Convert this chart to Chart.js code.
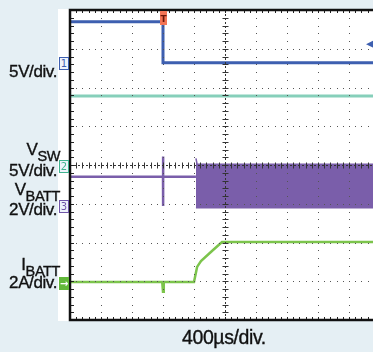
<!DOCTYPE html>
<html>
<head>
<meta charset="utf-8">
<script src="https://cdn.jsdelivr.net/npm/chart.js@4.4.1/dist/chart.umd.min.js"></script>
<style>
  html, body { margin: 0; padding: 0; width: 373px; height: 352px; overflow: hidden; background: #e5eff4; }
  #panel { position: absolute; left: 58px; top: 9px; width: 340px; height: 312px; background: #fff; }
  #wrap { position: absolute; left: 0; top: 0; width: 390px; height: 352px; }
  .lbl { position: absolute; left: 0; text-align: right; font: 17px "Liberation Sans", Arial, sans-serif; line-height: 17px; color: #111; white-space: nowrap; letter-spacing: -0.4px; -webkit-text-stroke: 0.35px #111; }
  .lbl sub { font-size: 14.5px; vertical-align: baseline; position: relative; top: 6px; }
  .mk { position: absolute; left: 59px; width: 8px; height: 11px; border: 1px solid; background: #eef3fb; font: 10px "DejaVu Sans", sans-serif; line-height: 11px; text-align: center; }
  #trig { position: absolute; left: 160px; top: 11px; width: 7px; height: 14px; background: #f47556; color: #6b1608; font: bold 9px "DejaVu Sans", sans-serif; line-height: 16px; text-align: center; }
  #lvl { position: absolute; left: 366px; top: 37px; color: #3d5fb0; font: 11px "DejaVu Sans", sans-serif; }
  #xlbl { position: absolute; left: 182px; top: 326px; font: 19.5px "Liberation Sans", Arial, sans-serif; color: #111; letter-spacing: -0.4px; -webkit-text-stroke: 0.35px #111; }
</style>
</head>
<body>
<div id="panel"></div>
<div id="wrap"><canvas id="scope"></canvas></div>

<div class="lbl" style="top:63px;width:57px">5V/div.</div>
<div class="lbl" style="top:141px;width:60px">V<sub>SW</sub></div>
<div class="lbl" style="top:162px;width:57px">5V/div.</div>
<div class="lbl" style="top:181px;width:60px">V<sub>BATT</sub></div>
<div class="lbl" style="top:201px;width:57px">2V/div.</div>
<div class="lbl" style="top:256px;width:60px">I<sub>BATT</sub></div>
<div class="lbl" style="top:274px;width:57px">2A/div.</div>
<div id="xlbl">400µs/div.</div>

<div class="mk" style="top:57px;border-color:#3d5fb0;color:#3d5fb0">1</div>
<div class="mk" style="top:160px;border-color:#3fb38f;color:#3fb38f">2</div>
<div class="mk" style="top:200px;border-color:#6f55a8;color:#6f55a8">3</div>
<div class="mk" style="top:277px;border-color:#62b83a;background:#62b83a;color:#fff;font-weight:bold">→</div>
<div id="trig">T</div>
<div id="lvl">◀</div>

<script>
// time base: µs, 400µs per division, 10 divisions
const usPerDiv = 400;
const xDivs = 10;
const yDivs = 8;

// channel 1 (blue), 5V/div
const ch1Time = [0, 1200, 1200, 4000];
const ch1Volts = [5.2, 5.2, -0.1, -0.1];

// channel 2 (teal), 5V/div
const ch2Time = [0, 4000];
const ch2Volts = [8.9, 8.9];

// channel 3 (purple), 2V/div: before switching starts
const ch3Time = [0, 1195, 1200, 1200, 1200, 1205, 1625];
const ch3Volts = [1.45, 1.45, 1.45, 2.5, -0.05, 1.45, 1.45];
// switching envelope
const ch3BandTime = [1625, 1640, 4000];
const ch3BandHigh = [2.4, 2.1, 2.1];
const ch3BandLow = [-0.15, -0.15, -0.15];

// channel 4 (green), 2A/div
const ch4Time = [0, 1190, 1200, 1210, 1600, 1640, 1690, 1832, 1961, 4000];
const ch4Amps = [0, 0, -0.5, 0, 0, 0.78, 1.08, 1.6, 2.06, 2.06];

// channel scale (units/div) and ground position (divisions from centre)
const ch1 = { scale: 5, offset: 2.66 };
const ch2 = { scale: 5, offset: 0 };
const ch3 = { scale: 2, offset: -1.03 };
const ch4 = { scale: 2, offset: -3.02 };

function toPoints(times, values, ch) {
  return times.map((t, i) => ({ x: t, y: ch.offset + values[i] / ch.scale }));
}

function trace(data, color, extra) {
  return Object.assign({
    data,
    borderColor: color,
    backgroundColor: color,
    borderWidth: 2.5,
    pointRadius: 0,
    tension: 0,
    fill: false
  }, extra || {});
}

const scopeGrid = {
  id: "scopeGrid",
  afterDatasetsDraw(chart) {
    const { ctx, chartArea: a, scales: { x, y } } = chart;
    const xMin = 0, xMax = usPerDiv * xDivs;
    const yMin = -yDivs / 2, yMax = yDivs / 2;
    ctx.save();
    ctx.fillStyle = "#555";

    // dotted grid lines
    for (let i = 1; i < yDivs; i++) {
      if (i === yDivs / 2) continue;
      const py = Math.round(y.getPixelForValue(yMin + i));
      for (let j = 1; j < xDivs * 5; j++) {
        const px = Math.round(x.getPixelForValue(j * usPerDiv / 5));
        ctx.fillRect(px, py, 1, 1);
      }
    }
    for (let i = 1; i < xDivs; i++) {
      if (i === xDivs / 2) continue;
      const px = Math.round(x.getPixelForValue(i * usPerDiv));
      for (let j = 1; j < yDivs * 5; j++) {
        const py = Math.round(y.getPixelForValue(yMin + j / 5));
        ctx.fillRect(px, py, 1, 1);
      }
    }

    // centre lines with minor ticks
    const cx = Math.round(x.getPixelForValue(xMax / 2)) + 0.5;
    const cy = Math.round(y.getPixelForValue(0)) + 0.5;
    ctx.strokeStyle = "#333";
    ctx.lineWidth = 1;
    ctx.setLineDash([2, 2]);
    ctx.beginPath();
    ctx.moveTo(a.left, cy); ctx.lineTo(a.right, cy);
    ctx.moveTo(cx, a.top); ctx.lineTo(cx, a.bottom);
    ctx.stroke();
    ctx.setLineDash([]);
    ctx.beginPath();
    for (let j = 1; j < xDivs * 5; j++) {
      const px = Math.round(x.getPixelForValue(j * usPerDiv / 5)) + 0.5;
      ctx.moveTo(px, cy - 3); ctx.lineTo(px, cy + 3);
    }
    for (let j = 1; j < yDivs * 5; j++) {
      const py = Math.round(y.getPixelForValue(yMin + j / 5)) + 0.5;
      ctx.moveTo(cx - 3, py); ctx.lineTo(cx + 3, py);
    }
    ctx.stroke();

    // border ticks
    ctx.strokeStyle = "#222";
    ctx.beginPath();
    for (let j = 1; j < yDivs * 5; j++) {
      const py = Math.round(y.getPixelForValue(yMin + j / 5)) + 0.5;
      ctx.moveTo(a.left, py); ctx.lineTo(a.left + 4, py);
    }
    for (let j = 1; j < xDivs * 5; j++) {
      const px = Math.round(x.getPixelForValue(j * usPerDiv / 5)) + 0.5;
      ctx.moveTo(px, a.top); ctx.lineTo(px, a.top + 3);
      ctx.moveTo(px, a.bottom); ctx.lineTo(px, a.bottom - 3);
    }
    ctx.stroke();

    // frame
    ctx.strokeStyle = "#111";
    ctx.lineWidth = 2.5;
    ctx.strokeRect(x.getPixelForValue(xMin), y.getPixelForValue(yMax), x.getPixelForValue(xMax) - x.getPixelForValue(xMin), y.getPixelForValue(yMin) - y.getPixelForValue(yMax));
    ctx.restore();
  }
};

new Chart(document.getElementById("scope"), {
  type: "line",
  data: {
    datasets: [
      trace(toPoints(ch2Time, ch2Volts, ch2), "#86cfba", { borderWidth: 3 }),
      trace(toPoints(ch1Time, ch1Volts, ch1), "#3d5fb0", { borderWidth: 3 }),
      trace(toPoints(ch3Time, ch3Volts, ch3), "#7a5eaa"),
      trace(toPoints(ch3BandTime, ch3BandHigh, ch3), "#7a5eaa", { borderWidth: 1.5 }),
      trace(toPoints(ch3BandTime, ch3BandLow, ch3), "#7a5eaa", { borderWidth: 1.5, fill: "-1" }),
      trace(toPoints(ch4Time, ch4Amps, ch4), "#7cc44c")
    ]
  },
  options: {
    responsive: true,
    maintainAspectRatio: false,
    animation: false,
    layout: { padding: { left: 70, top: 10, right: 10, bottom: 32 } },
    plugins: { legend: { display: false }, tooltip: { enabled: false } },
    scales: {
      x: { type: "linear", min: 0, max: usPerDiv * xDivs, display: false },
      y: { type: "linear", min: -yDivs / 2, max: yDivs / 2, display: false }
    }
  },
  plugins: [scopeGrid]
});
</script>
</body>
</html>
